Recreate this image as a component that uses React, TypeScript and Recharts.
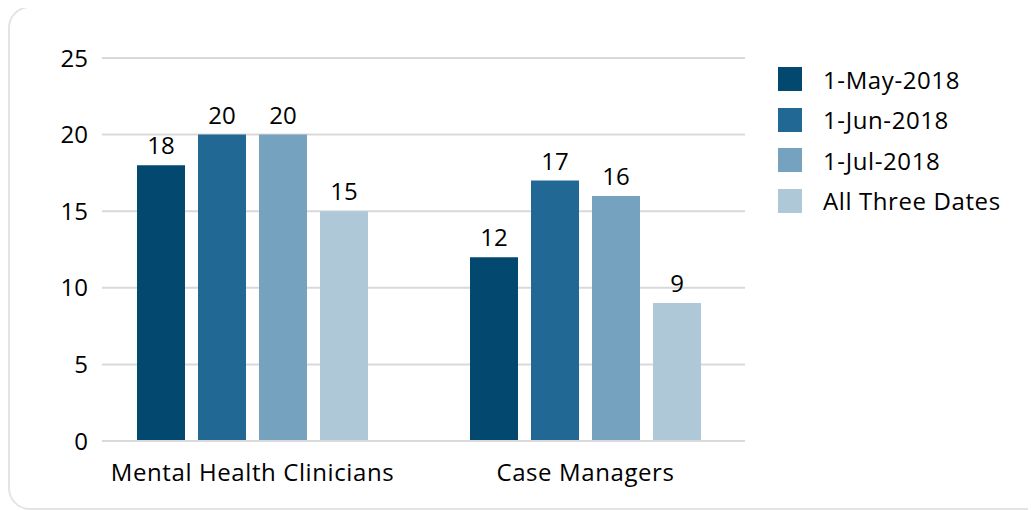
import { Bar, BarChart, CartesianGrid, LabelList, XAxis, YAxis } from "recharts";

const CATEGORIES = ["Mental Health Clinicians", "Case Managers"];
const MAY = [18, 12];
const JUN = [20, 17];
const JUL = [20, 16];
const ALL_THREE = [15, 9];
const Y_TICKS = [0, 5, 10, 15, 20, 25];

const SERIES = [
  { key: "may", label: "1-May-2018", color: "#03496f" },
  { key: "jun", label: "1-Jun-2018", color: "#226894" },
  { key: "jul", label: "1-Jul-2018", color: "#75a3bf" },
  { key: "all", label: "All Three Dates", color: "#afc8d8" },
];

const data = CATEGORIES.map((name, i) => ({
  name,
  may: MAY[i],
  jun: JUN[i],
  jul: JUL[i],
  all: ALL_THREE[i],
}));

const FONT = "'Open Sans', sans-serif";
const FS = 24;
const LS = 0.6;

export default function App() {
  return (
    <div
      style={{
        position: "relative",
        marginTop: -2,
        width: 1040,
        height: 500,
        border: "2px solid #e4e4e4",
        borderRadius: 22,
        fontFamily: FONT,
        background: "#fff",
      }}
    >
      <BarChart
        width={1030}
        height={498}
        data={data}
        margin={{ top: 50, right: 295, bottom: 35, left: 0 }}
        barGap={13}
        barSize={48}
      >
        <CartesianGrid vertical={false} stroke="#d9d9d9" strokeWidth={2} />
        <XAxis
          dataKey="name"
          axisLine={{ stroke: "#d9d9d9", strokeWidth: 2 }}
          tickLine={false}
          tickSize={0}
          tickMargin={23}
          padding={{ left: -16, right: -7 }}
          tick={{ fill: "#000", fontSize: FS, fontFamily: FONT, letterSpacing: LS }}
        />
        <YAxis
          domain={[0, 25]}
          ticks={Y_TICKS}
          width={92}
          axisLine={false}
          tickLine={false}
          tickSize={0}
          tickMargin={14}
          tick={{ fill: "#000", fontSize: FS, fontFamily: FONT }}
        />
        {SERIES.map((s) => (
          <Bar key={s.key} dataKey={s.key} fill={s.color} isAnimationActive={false}>
            <LabelList
              dataKey={s.key}
              position="top"
              offset={11}
              style={{ fill: "#000", fontSize: FS, fontFamily: FONT }}
            />
          </Bar>
        ))}
      </BarChart>
      <div style={{ position: "absolute", left: 768, top: 51 }}>
        {SERIES.map((s) => (
          <div key={s.key} style={{ display: "flex", alignItems: "center", height: 40.5 }}>
            <span style={{ width: 24, height: 24, background: s.color, display: "inline-block" }} />
            <span style={{ marginLeft: 21, fontSize: FS, letterSpacing: LS, color: "#000" }}>
              {s.label}
            </span>
          </div>
        ))}
      </div>
    </div>
  );
}
